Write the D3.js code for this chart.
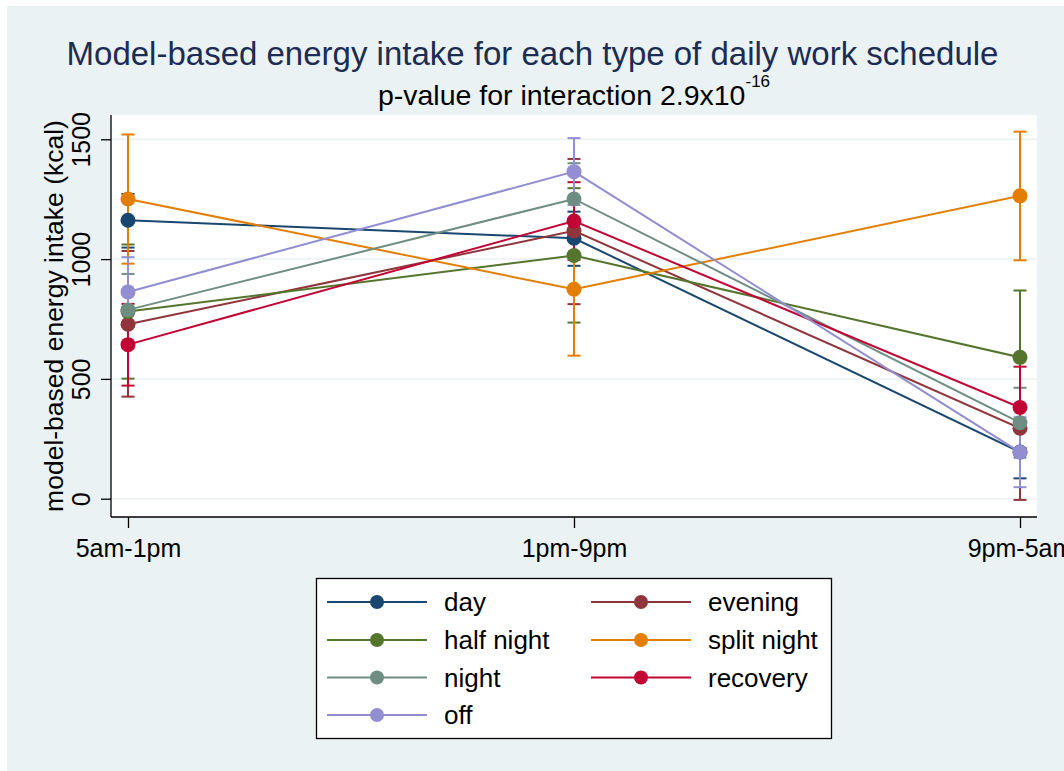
<!DOCTYPE html>
<html>
<head>
<meta charset="utf-8">
<script src="https://cdn.jsdelivr.net/npm/d3@7"></script>
<style>
  body { margin: 0; background: #ffffff; }
  text { font-family: "Liberation Sans", Arial, sans-serif; }
</style>
</head>
<body>
<div id="chart"></div>
<script>
//categories on the x axis
var periods = ["5am-1pm", "1pm-9pm", "9pm-5am"];

//series, in legend order
var schedules = ["day", "evening", "half night", "split night", "night", "recovery", "off"];
var colors = ["#1a476f", "#90353b", "#55752f", "#e37e00", "#6e8e84", "#c10534", "#938dd2"];

//model-based estimates (kcal), one value per period
var dayEst = [1162, 1087, 195];
var eveningEst = [728, 1118, 294];
var halfNightEst = [781, 1015, 590];
var splitNightEst = [1251, 874, 1264];
var nightEst = [788, 1251, 317];
var recoveryEst = [643, 1159, 381];
var offEst = [863, 1365, 194];

//lower and upper confidence limits
var dayLo = [1048, 972, 85], dayHi = [1272, 1198, 305];
var eveningLo = [426, 812, -5], eveningHi = [1034, 1418, 593];
var halfNightLo = [501, 735, 311], halfNightHi = [1061, 1296, 869];
var splitNightLo = [981, 597, 995], splitNightHi = [1520, 1151, 1532];
var nightLo = [638, 1102, 171], nightHi = [938, 1400, 463];
var recoveryLo = [472, 997, 211], recoveryHi = [813, 1321, 551];
var offLo = [718, 1226, 48], offHi = [1008, 1505, 340];

//y axis ticks
var yTicks = [0, 500, 1000, 1500];

var estimates = [dayEst, eveningEst, halfNightEst, splitNightEst, nightEst, recoveryEst, offEst];
var lows = [dayLo, eveningLo, halfNightLo, splitNightLo, nightLo, recoveryLo, offLo];
var highs = [dayHi, eveningHi, halfNightHi, splitNightHi, nightHi, recoveryHi, offHi];

//build one object per series
var series = schedules.map(function(name, i) {
  return {
    name: name,
    color: colors[i],
    points: periods.map(function(p, j) {
      return { period: p, value: estimates[i][j], lo: lows[i][j], hi: highs[i][j] };
    })
  };
});

var width = 1064, height = 771;

//plot region
var plot = { left: 111, right: 1037, top: 115, bottom: 517 };

var svg = d3
  .select("#chart")
  .append("svg")
  .attr("width", width)
  .attr("height", height);

//graph region background
svg
  .append("rect")
  .attr("x", 7)
  .attr("y", 6)
  .attr("width", width - 7)
  .attr("height", height - 6)
  .attr("fill", "#eaf2f3");

//plot region background
svg
  .append("rect")
  .attr("x", plot.left)
  .attr("y", plot.top)
  .attr("width", plot.right - plot.left)
  .attr("height", plot.bottom - plot.top)
  .attr("fill", "#ffffff");

//scales
var xScale = d3
  .scalePoint()
  .domain(periods)
  .range([128, 1020]);

var yScale = d3
  .scaleLinear()
  .domain([0, 1500])
  .range([498.7, 139.3]);

//grid lines
svg
  .append("g")
  .selectAll("line")
  .data(yTicks)
  .enter()
  .append("line")
  .attr("x1", plot.left)
  .attr("x2", plot.right)
  .attr("y1", function(d) { return yScale(d); })
  .attr("y2", function(d) { return yScale(d); })
  .style("stroke", "#eaf2f3")
  .style("stroke-width", 1.5);

//y axis
var yAxis = d3
  .axisLeft(yScale)
  .tickValues(yTicks)
  .tickFormat(d3.format("d"))
  .tickSize(10)
  .tickSizeOuter(0)
  .tickPadding(0);
var gy = svg
  .append("g")
  .attr("transform", "translate(" + plot.left + ",0)")
  .call(yAxis);
gy.select(".domain").remove();
gy.selectAll("line").style("stroke", "#000").style("stroke-width", 1.3);
gy.selectAll("text")
  .attr("x", null)
  .attr("dy", null)
  .attr("text-anchor", "middle")
  .attr("transform", "translate(-21,0) rotate(-90)")
  .style("font-size", "25px")
  .style("font-family", "Liberation Sans, Arial, sans-serif")
  .style("fill", "#000");

//x axis
var xAxis = d3.axisBottom(xScale).tickSize(11).tickSizeOuter(0).tickPadding(0);
var gx = svg
  .append("g")
  .attr("transform", "translate(0," + plot.bottom + ")")
  .call(xAxis);
gx.select(".domain").remove();
gx.selectAll("line").style("stroke", "#000").style("stroke-width", 1.3);
gx.selectAll("text")
  .attr("y", 40)
  .attr("dy", null)
  .style("font-size", "25px")
  .style("font-family", "Liberation Sans, Arial, sans-serif")
  .style("fill", "#000");

//axis lines
svg.append("line")
  .attr("x1", plot.left).attr("x2", plot.left)
  .attr("y1", plot.top).attr("y2", plot.bottom)
  .style("stroke", "#000").style("stroke-width", 1.3);
svg.append("line")
  .attr("x1", plot.left).attr("x2", plot.right)
  .attr("y1", plot.bottom).attr("y2", plot.bottom)
  .style("stroke", "#000").style("stroke-width", 1.3);

//axis title
svg
  .append("text")
  .attr("transform", "translate(63," + (plot.top + plot.bottom) / 2 + ") rotate(-90)")
  .attr("text-anchor", "middle")
  .style("font-size", "26.5px")
  .text("model-based energy intake (kcal)");

//confidence intervals
var capHalf = 6.5;
series.forEach(function(s) {
  var g = svg.append("g").attr("class", "ci");
  g.selectAll(".stem")
    .data(s.points)
    .enter()
    .append("line")
    .attr("x1", function(d) { return xScale(d.period); })
    .attr("x2", function(d) { return xScale(d.period); })
    .attr("y1", function(d) { return yScale(d.lo); })
    .attr("y2", function(d) { return yScale(d.hi); })
    .style("stroke", s.color)
    .style("stroke-width", 2);
  ["lo", "hi"].forEach(function(k) {
    g.selectAll(".cap-" + k)
      .data(s.points)
      .enter()
      .append("line")
      .attr("x1", function(d) { return xScale(d.period) - capHalf; })
      .attr("x2", function(d) { return xScale(d.period) + capHalf; })
      .attr("y1", function(d) { return yScale(d[k]); })
      .attr("y2", function(d) { return yScale(d[k]); })
      .style("stroke", s.color)
      .style("stroke-width", 2);
  });
});

//connected lines and markers
var line = d3
  .line()
  .x(function(d) { return xScale(d.period); })
  .y(function(d) { return yScale(d.value); });

series.forEach(function(s) {
  svg
    .append("path")
    .datum(s.points)
    .attr("d", line)
    .attr("fill", "none")
    .style("stroke", s.color)
    .style("stroke-width", 2);
  svg
    .append("g")
    .selectAll("circle")
    .data(s.points)
    .enter()
    .append("circle")
    .attr("cx", function(d) { return xScale(d.period); })
    .attr("cy", function(d) { return yScale(d.value); })
    .attr("r", 7.5)
    .attr("fill", s.color);
});

//titles
svg
  .append("text")
  .attr("x", 532.5)
  .attr("y", 64.5)
  .attr("text-anchor", "middle")
  .style("font-size", "33px")
  .style("fill", "#1c2c54")
  .text("Model-based energy intake for each type of daily work schedule");

var sub = svg
  .append("text")
  .attr("x", 574)
  .attr("y", 105)
  .attr("text-anchor", "middle")
  .style("font-size", "28.5px")
  .style("fill", "#000");
sub.append("tspan").text("p-value for interaction 2.9x10");
sub.append("tspan").attr("dy", -18).style("font-size", "17px").text("-16");

//legend
var legend = svg.append("g");
legend
  .append("rect")
  .attr("x", 316.5)
  .attr("y", 578.5)
  .attr("width", 515)
  .attr("height", 160)
  .attr("fill", "#ffffff")
  .style("stroke", "#000")
  .style("stroke-width", 1.3);

var colX = [327, 591];
var rowY = [602, 640, 677.5, 715];

var items = legend
  .selectAll(".item")
  .data(series)
  .enter()
  .append("g")
  .attr("class", "item")
  .attr("transform", function(d, i) {
    return "translate(" + colX[i % 2] + "," + rowY[Math.floor(i / 2)] + ")";
  });

items
  .append("line")
  .attr("x1", 0)
  .attr("x2", 100)
  .style("stroke", function(d) { return d.color; })
  .style("stroke-width", 2);
items
  .append("circle")
  .attr("cx", 50)
  .attr("r", 7)
  .attr("fill", function(d) { return d.color; });
items
  .append("text")
  .attr("x", 117)
  .attr("y", 9)
  .style("font-size", "26px")
  .style("fill", "#000")
  .text(function(d) { return d.name; });
</script>
</body>
</html>
